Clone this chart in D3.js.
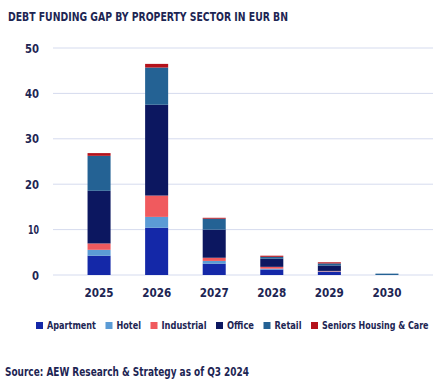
<!DOCTYPE html>
<html>
<head>
<meta charset="utf-8">
<script src="https://cdn.jsdelivr.net/npm/d3@7"></script>
<style>
  body { margin: 0; background: #fff; }
  svg text { font-family: "DejaVu Sans Condensed", "DejaVu Sans", sans-serif; fill: #1d2553; }
</style>
</head>
<body>
<div id="chart"></div>
<script>
const years = ["2025", "2026", "2027", "2028", "2029", "2030"];
const sectors = ["Apartment", "Hotel", "Industrial", "Office", "Retail", "Seniors Housing & Care"];
const colors = ["#1428a8", "#5b9bd5", "#f05a5e", "#0c1760", "#246294", "#b5121b"];

// values per sector, one per year (EUR bn)
const apartment = [4.25, 10.4, 2.5, 1.2, 0.7, 0];
const hotel = [1.3, 2.4, 0.6, 0.2, 0.1, 0];
const industrial = [1.4, 4.7, 0.7, 0.4, 0.1, 0];
const office = [11.6, 20.0, 6.2, 1.8, 1.2, 0];
const retail = [7.7, 8.2, 2.4, 0.4, 0.45, 0.3];
const seniors = [0.6, 0.8, 0.2, 0.25, 0.25, 0];

const yTicks = [0, 10, 20, 30, 40, 50];

const width = 445, height = 382;
const margin = { top: 48, right: 12, bottom: 107, left: 53 };

// rendered widths of the legend labels (condensed face)
const legendTextWidths = [49, 24.5, 45, 27, 27, 106.5];

const svg = d3.select("#chart").append("svg")
  .attr("width", width)
  .attr("height", height);

const table = years.map((year, i) => ({
  year,
  Apartment: apartment[i],
  Hotel: hotel[i],
  Industrial: industrial[i],
  Office: office[i],
  Retail: retail[i],
  "Seniors Housing & Care": seniors[i],
}));

const x = d3.scaleBand()
  .domain(years)
  .range([margin.left, width - margin.right])
  .padding(0.6);

const y = d3.scaleLinear()
  .domain([0, 50])
  .range([height - margin.bottom, margin.top]);

const color = d3.scaleOrdinal().domain(sectors).range(colors);

// title
svg.append("text")
  .attr("x", 8)
  .attr("y", 20.5)
  .attr("font-size", 12.5)
  .attr("font-weight", "bold")
  .attr("textLength", 280)
  .attr("lengthAdjust", "spacingAndGlyphs")
  .text("DEBT FUNDING GAP BY PROPERTY SECTOR IN EUR BN");

// gridlines
svg.append("g")
  .selectAll("line")
  .data(yTicks)
  .join("line")
  .attr("x1", margin.left)
  .attr("x2", width - margin.right)
  .attr("y1", (d) => y(d))
  .attr("y2", (d) => y(d))
  .attr("stroke", "#d5dbee")
  .attr("stroke-width", 1);

// y axis labels
const yAxis = svg.append("g")
  .attr("transform", `translate(${margin.left - 14},0)`)
  .call(d3.axisLeft(y).tickValues(yTicks).tickSize(0).tickPadding(0));
yAxis.select(".domain").remove();
yAxis.selectAll("text")
  .attr("font-size", 13)
  .attr("font-weight", "bold")
  .attr("font-family", null)
  .attr("fill", null)
  .attr("textLength", (d) => (d === 0 ? 7 : d === 10 ? 11 : 14))
  .attr("lengthAdjust", "spacingAndGlyphs");

// stacked bars
const series = d3.stack().keys(sectors)(table);

svg.append("g")
  .selectAll("g")
  .data(series)
  .join("g")
  .attr("fill", (d) => color(d.key))
  .selectAll("rect")
  .data((d) => d)
  .join("rect")
  .attr("x", (d) => x(d.data.year))
  .attr("y", (d) => y(d[1]))
  .attr("height", (d) => y(d[0]) - y(d[1]))
  .attr("width", x.bandwidth());

// x axis labels
const xAxis = svg.append("g")
  .attr("transform", `translate(0,${height - margin.bottom + 10})`)
  .call(d3.axisBottom(x).tickSize(0).tickPadding(0));
xAxis.select(".domain").remove();
xAxis.selectAll("text")
  .attr("dy", "0.9em")
  .attr("font-size", 13)
  .attr("font-weight", "bold")
  .attr("font-family", null)
  .attr("fill", null)
  .attr("textLength", 29)
  .attr("lengthAdjust", "spacingAndGlyphs");

// legend
const legend = svg.append("g").attr("transform", "translate(36,325.5)");
const items = legend.selectAll("g")
  .data(sectors)
  .join("g");
items.append("rect")
  .attr("width", 7)
  .attr("height", 7)
  .attr("y", -3.5)
  .attr("fill", (d) => color(d));
items.append("text")
  .attr("x", 11)
  .attr("dy", "0.36em")
  .attr("font-size", 11)
  .attr("font-weight", "bold")
  .attr("textLength", (d, i) => legendTextWidths[i])
  .attr("lengthAdjust", "spacingAndGlyphs")
  .text((d) => d);

let cursor = 0;
items.each(function (d, i) {
  d3.select(this).attr("transform", `translate(${cursor},0)`);
  cursor += 11 + legendTextWidths[i] + 9.5;
});

// source
svg.append("text")
  .attr("x", 5)
  .attr("y", 376)
  .attr("font-size", 12.5)
  .attr("font-weight", "bold")
  .attr("textLength", 244)
  .attr("lengthAdjust", "spacingAndGlyphs")
  .text("Source: AEW Research & Strategy as of Q3 2024");
</script>
</body>
</html>
